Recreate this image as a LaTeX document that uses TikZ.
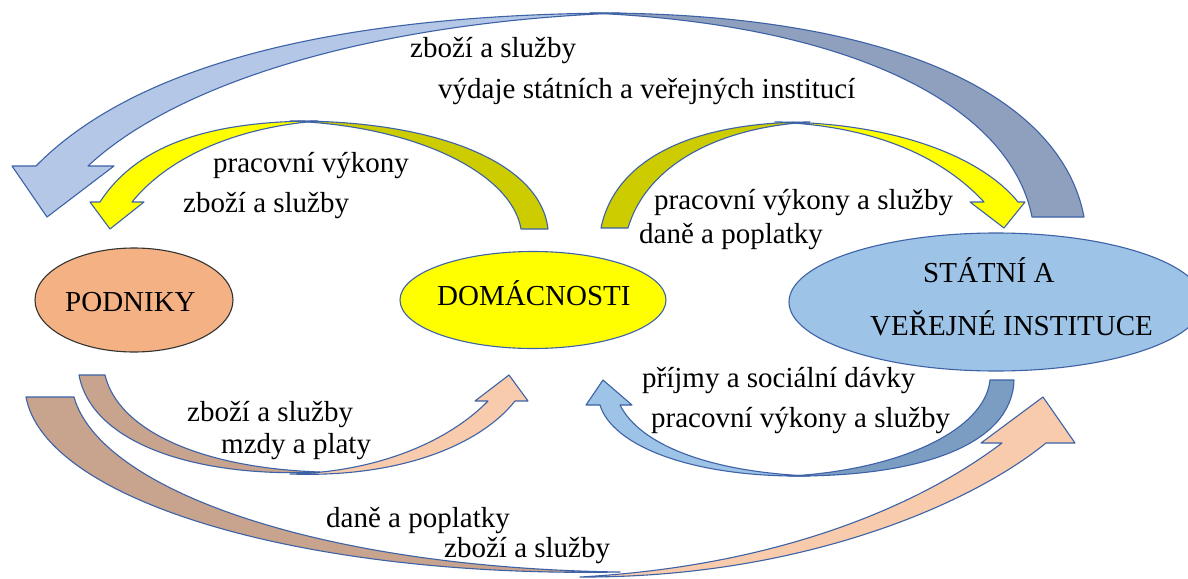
\documentclass[tikz,border=0pt]{standalone}
\usepackage{fontspec}
\setmainfont{Liberation Serif}
\usetikzlibrary{shapes.geometric}
\definecolor{blfront}{HTML}{B4C7E7}
\definecolor{blback}{HTML}{8FA0BE}
\definecolor{yfront}{HTML}{FFFF00}
\definecolor{yback}{HTML}{CCCC00}
\definecolor{pfront}{HTML}{F8CBAD}
\definecolor{pback}{HTML}{C8A38D}
\definecolor{sfront}{HTML}{9DC3E6}
\definecolor{sback}{HTML}{7B9DC2}
\definecolor{arrowline}{HTML}{3D62A6}
\definecolor{orangeell}{HTML}{F4B183}
\definecolor{stateell}{HTML}{9DC3E6}
\begin{document}
\begin{tikzpicture}[x=1pt,y=-1pt,
  lbl/.style={font=\fontsize{29}{34}\selectfont, inner sep=0pt, anchor=base west},
  band/.style={draw=arrowline, line width=1.1pt, line join=round},
  ell/.style={ellipse, inner sep=0pt, line width=1.1pt}]
\useasboundingbox (0,0) rectangle (1188,578);
\fill[white] (0,0) rectangle (1188,578);

% ---- top big arrow (state -> firms)
\filldraw[band, fill=blback] (590,13) .. controls (880,12) and (1060,90) .. (1084,217) -- (1032,217) .. controls (1010,105) and (850,24) .. (590,13) -- cycle;
\filldraw[band, fill=blfront] (36,166) .. controls (140,60) and (350,14) .. (620,13) .. controls (380,22) and (180,80) .. (88,166) -- (114,166) -- (47,217) -- (12,166) -- cycle;

% ---- yellow arrow households -> firms
\filldraw[band, fill=yback] (290,121) .. controls (430,120) and (540,160) .. (548,229) -- (521,229) .. controls (512,175) and (420,126) .. (290,121) -- cycle;
\filldraw[band, fill=yfront] (100,202) .. controls (140,140) and (220,121) .. (318,121) .. controls (240,127) and (170,155) .. (132,202) -- (144,202) -- (110,229) -- (90,202) -- cycle;

% ---- yellow arrow households -> state
\filldraw[band, fill=yback] (601,228) .. controls (615,160) and (690,122) .. (810,122) .. controls (710,128) and (645,170) .. (628,228) -- cycle;
\filldraw[band, fill=yfront] (775,122) .. controls (890,122) and (980,155) .. (1018,202) -- (1025,202) -- (1004,228) -- (970,202) -- (984,202) .. controls (945,160) and (880,126) .. (775,122) -- cycle;

% ---- firms -> households (bottom left)
\filldraw[band, fill=pback] (79,375) -- (105,375) .. controls (118,430) and (200,468) .. (320,472) .. controls (200,478) and (92,445) .. (79,375) -- cycle;
\filldraw[band, fill=pfront] (290,474) .. controls (400,478) and (480,445) .. (515,401) -- (528,401) -- (509,375) -- (475,401) -- (488,401) .. controls (450,440) and (380,472) .. (290,474) -- cycle;

% ---- state -> households (bottom right)
\filldraw[band, fill=sback] (990,380) -- (1014,380) .. controls (1012,445) and (920,477) .. (790,476) .. controls (900,470) and (985,430) .. (990,380) -- cycle;
\filldraw[band, fill=sfront] (810,476) .. controls (690,478) and (612,445) .. (600,405) -- (586,405) -- (603,380) -- (632,405) -- (620,405) .. controls (640,445) and (710,472) .. (810,476) -- cycle;

% ---- firms -> state (bottom big)
\filldraw[band, fill=pback] (26,397) -- (74,397) .. controls (100,490) and (320,568) .. (620,572) .. controls (300,578) and (45,500) .. (26,397) -- cycle;
\filldraw[band, fill=pfront] (580,577) .. controls (800,578) and (970,505) .. (1046,443) -- (1075,443) -- (1043,397) -- (981,443) -- (1002,443) .. controls (920,505) and (780,566) .. (580,577) -- cycle;

% ---- ellipses
\node[ell, draw=black!80, fill=orangeell, minimum width=198pt, minimum height=104pt] (podniky) at (134,300) {};
\node[ell, draw=arrowline, fill=yfront, minimum width=266pt, minimum height=97pt] (domac) at (533,300) {};
\node[ell, draw=arrowline, fill=stateell, minimum width=414pt, minimum height=138pt] (stat) at (996,302) {};

\node[lbl] (tpod) at (65,311) {PODNIKY};
\node[lbl] (tdom) at (437,305) {DOMÁCNOSTI};
\node[lbl] (tst1) at (923,282) {STÁTNÍ A};
\node[lbl] (tst2) at (870,335) {VEŘEJNÉ INSTITUCE};

% ---- labels
\node[lbl] (l1) at (410,57) {zboží a služby};
\node[lbl] (l2) at (438,98) {výdaje státních a veřejných institucí};
\node[lbl] (l3) at (213,172) {pracovní výkony};
\node[lbl] (l4) at (183,212) {zboží a služby};
\node[lbl] (l5) at (654,209) {pracovní výkony a služby};
\node[lbl] (l6) at (639,243) {daně a poplatky};
\node[lbl] (l7) at (642,387) {příjmy a sociální dávky};
\node[lbl] (l8) at (651,427) {pracovní výkony a služby};
\node[lbl] (l9) at (187,421) {zboží a služby};
\node[lbl] (l10) at (221,453) {mzdy a platy};
\node[lbl] (l11) at (326,527) {daně a poplatky};
\node[lbl] (l12) at (444,557) {zboží a služby};
\end{tikzpicture}
\end{document}
